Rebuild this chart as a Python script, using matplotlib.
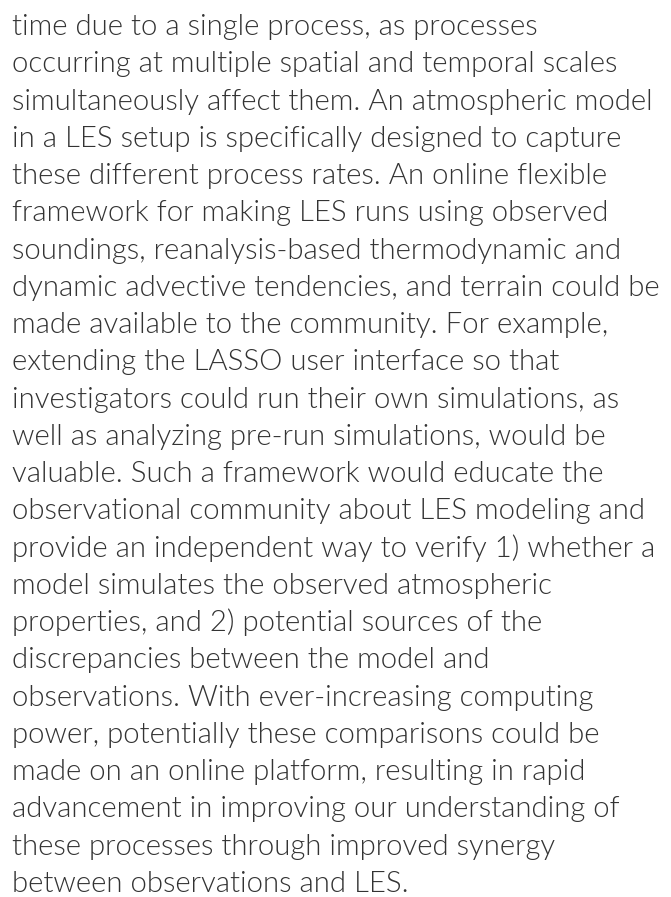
import matplotlib
matplotlib.use("Agg")
import matplotlib.pyplot as plt
from matplotlib import font_manager

# Paragraph lines as they appear in the reference
lines = [
    "time due to a single process, as processes",
    "occurring at multiple spatial and temporal scales",
    "simultaneously affect them. An atmospheric model",
    "in a LES setup is specifically designed to capture",
    "these different process rates. An online flexible",
    "framework for making LES runs using observed",
    "soundings, reanalysis-based thermodynamic and",
    "dynamic advective tendencies, and terrain could be",
    "made available to the community. For example,",
    "extending the LASSO user interface so that",
    "investigators could run their own simulations, as",
    "well as analyzing pre-run simulations, would be",
    "valuable. Such a framework would educate the",
    "observational community about LES modeling and",
    "provide an independent way to verify 1) whether a",
    "model simulates the observed atmospheric",
    "properties, and 2) potential sources of the",
    "discrepancies between the model and",
    "observations. With ever-increasing computing",
    "power, potentially these comparisons could be",
    "made on an online platform, resulting in rapid",
    "advancement in improving our understanding of",
    "these processes through improved synergy",
    "between observations and LES.",
]

W, H = 671, 897
fig = plt.figure(figsize=(W / 100, H / 100), dpi=100)
fig.patch.set_facecolor("white")

x0 = 12
first_baseline = 35
last_baseline = 892
spacing = (last_baseline - first_baseline) / (len(lines) - 1)

# look for a Lato Light file (not Hairline); fall back to regular Lato
light = [f.fname for f in font_manager.fontManager.ttflist
         if f.fname.endswith("Lato-Light.ttf")]
if light:
    prop = font_manager.FontProperties(fname=light[0])
else:
    prop = font_manager.FontProperties(family="Lato")

# fit font size so the "dynamic advective ..." line spans ~648 px like the reference
base_size = 16
prop.set_size(base_size)
probe = fig.text(0, 0, lines[7], fontproperties=prop)
fig.canvas.draw()
w = probe.get_window_extent(renderer=fig.canvas.get_renderer()).width
probe.remove()
prop.set_size(base_size * 648 / w)

for i, line in enumerate(lines):
    y = first_baseline + i * spacing
    fig.text(x0 / W, 1 - y / H, line, fontproperties=prop,
             color="#333333", ha="left", va="baseline")

fig.savefig("out.png", dpi=100, facecolor="white")
